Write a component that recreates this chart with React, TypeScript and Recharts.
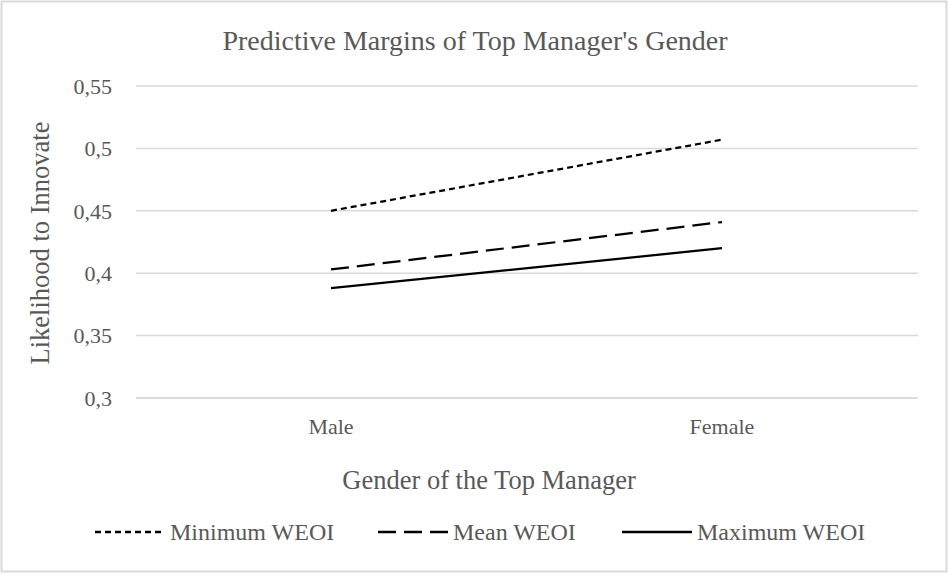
import { LineChart, Line, XAxis, YAxis, CartesianGrid } from "recharts";

const genders = ["Male", "Female"];
const minimumWeoi = [0.45, 0.507];
const meanWeoi = [0.403, 0.441];
const maximumWeoi = [0.388, 0.42];
const yTicks = [0.3, 0.35, 0.4, 0.45, 0.5, 0.55];

const data = genders.map((g, i) => ({
  gender: g,
  min: minimumWeoi[i],
  mean: meanWeoi[i],
  max: maximumWeoi[i],
}));

const FONT = "Liberation Serif, Times New Roman, serif";
const GREY = "#595959";

const series = [
  { key: "min", name: "Minimum WEOI", dash: "6 4" },
  { key: "mean", name: "Mean WEOI", dash: "18 8" },
  { key: "max", name: "Maximum WEOI", dash: undefined },
];

// legend key positions (left edge of each sample line)
const legendLeft = [95, 378, 622];

// legend drawn by hand so it doesn't push the plot area down
const ChartLegend = () => (
  <g>
    {series.map((s, i) => (
      <g key={s.key}>
        <line x1={legendLeft[i]} y1={532} x2={legendLeft[i] + 70} y2={532} stroke="#000" strokeWidth={2.5} strokeDasharray={s.dash} />
        <text x={legendLeft[i] + 75} y={540} fontFamily={FONT} fontSize={24} fill={GREY}>
          {s.name}
        </text>
      </g>
    ))}
  </g>
);

export default function App() {
  return (
    <div style={{ position: "absolute", left: 0, top: 0, width: 949, height: 574, background: "#fff" }}>
      <LineChart width={949} height={574} data={data} margin={{ top: 86, right: 31, bottom: 136, left: 0 }}>
        <CartesianGrid vertical={false} stroke="#d9d9d9" strokeWidth={1.5} />
        <XAxis
          dataKey="gender"
          height={40}
          padding={{ left: 195, right: 196 }}
          axisLine={{ stroke: "#d9d9d9", strokeWidth: 1.5 }}
          tickLine={false}
          tickMargin={14}
          tick={{ fill: GREY, fontSize: 22, fontFamily: FONT }}
        />
        <YAxis
          width={136}
          domain={[0.3, 0.55]}
          ticks={yTicks}
          axisLine={false}
          tickLine={false}
          tickMargin={18}
          tickFormatter={(v: number) => String(v).replace(".", ",")}
          tick={{ fill: GREY, fontSize: 22, fontFamily: FONT }}
        />
        {series.map((s) => (
          <Line
            key={s.key}
            type="linear"
            dataKey={s.key}
            name={s.name}
            stroke="#000"
            strokeWidth={2.25}
            strokeDasharray={s.dash}
            dot={false}
            activeDot={false}
            isAnimationActive={false}
          />
        ))}
      </LineChart>
      <svg width={949} height={574} style={{ position: "absolute", left: 0, top: 0, pointerEvents: "none" }}>
        <rect x={1.5} y={1.5} width={945} height={570} fill="none" stroke="#d9d9d9" strokeWidth={2} />
        <text x={475} y={50} textAnchor="middle" fontFamily={FONT} fontSize={28} fill={GREY}>
          Predictive Margins of Top Manager's Gender
        </text>
        <text x={489} y={489} textAnchor="middle" fontFamily={FONT} fontSize={26.5} fill={GREY}>
          Gender of the Top Manager
        </text>
        <text x={49} y={243} textAnchor="middle" fontFamily={FONT} fontSize={26.5} fill={GREY} transform="rotate(-90 49 243)">
          Likelihood to Innovate
        </text>
        <ChartLegend />
      </svg>
    </div>
  );
}
